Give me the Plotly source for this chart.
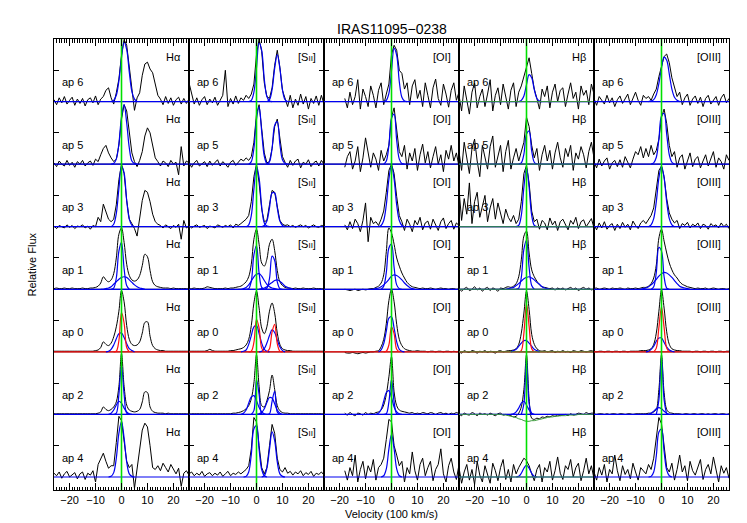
import plotly.graph_objects as go

# velocity grid (100 km/s), shared by all observed spectra
V = list(range(-26, 27))
N = None

# ---------------- observed spectra (percent of panel height, continuum = 0) ----------------
# row ap 6
HA6 = [3, -5, 6, -2, 8, -4, 2, 7, -6, 4,
       -3, 5, -7, 3, 6, -2, 9, -5, 4, 8,
       18, 22, 6, -4, 14, 36, 74, 99, 90, 52,
       18, -14, 6, 14, 42, 60, 63, 52, 46, 30,
       10, 4, -5, 8, -3, 6, -6, 3, 7, -4,
       5, -3, 4]
SII6 = [30, 12, -4, 6, -6, 3, 8, -5, 4, -2,
        7, -6, 2, 10, 50, -8, 5, -4, 9, -3,
        6, 2, 10, 5, 12, 28, 75, 100, 80, 30,
        8, 5, 22, 58, 82, 55, 18, 6, -8, 10,
        -10, 4, -6, 12, -4, 8, -12, 5, -3, 9,
        -6, 10, -4]
OI6 = [N, N, N, N, N, N, N, N, 5, -10,
       15, -5, 8, 35, -12, 20, 8, -8, 25, 10,
       -10, 18, 30, -5, 12, 28, 75, 90, 82, 50,
       45, 20, 30, -5, 25, 35, 5, 18, -8, 30,
       10, -10, 22, 36, 5, -6, 28, 12, -9, 18,
       30, 2, 15]
HB6 = [10, -15, 25, 5, -20, 15, 30, -10, 8, 20,
       -8, 12, 35, -15, 10, 22, -5, 28, 6, -12,
       18, 30, -8, 15, 25, 40, 55, 70, 45, 20,
       5, -12, 20, 8, 25, -10, 15, 28, 0, 18,
       22, -8, 12, 30, 5, 15, -12, 25, 10, 18,
       -5, 28, 12]
OIII6 = [5, -6, 8, 2, -4, 10, -2, 6, -8, 3,
         9, -3, 5, 12, -5, 4, 15, 2, -6, 10,
         5, 8, 2, 12, 20, 40, 58, 72, 76, 62,
         38, 22, 8, 15, -5, 6, 12, -6, 4, 9,
         -3, 7, -8, 5, 10, -4, 3, 8, -6, 6,
         12, -2, 5]
# row ap 5
HA5 = [2, -4, 5, 0, -3, 6, -2, 3, -5, 4,
       0, 6, -3, 2, 5, -2, 8, 4, 15, 25,
       30, 18, 10, 4, 8, 30, 72, 95, 85, 50,
       18, 4, -4, 6, 20, 45, 58, 50, 28, 10,
       4, -3, 5, 2, -4, 6, 0, 3, -17, 28,
       -3, 5, 2]
SII5 = [3, -5, 2, 6, -3, 0, 4, -4, 5, -2,
        2, 7, -3, 4, 0, -5, 3, 6, -2, 4,
        8, 5, 10, 6, 12, 35, 80, 95, 60, 18,
        2, 4, 25, 60, 72, 40, 12, 3, -5, 6,
        -2, 5, 8, -6, 3, 0, 7, -4, 2, 5,
        -3, 6, 0]
OI5 = [N, N, N, N, N, N, N, N, -5, 12,
       20, -8, 5, 28, -12, 10, 42, 15, -5, 18,
       8, -10, 22, 5, 15, 30, 75, 90, 55, 20,
       12, 30, -8, 18, 5, 25, -10, 15, 32, 2,
       20, -6, 12, 28, 0, 15, -12, 22, 8, 30,
       5, 18, -4]
HB5 = [20, -10, 35, 8, -15, 25, 40, 5, -20, 30,
       12, -8, 28, 45, -5, 15, 30, -12, 20, 38,
       -8, 10, 25, 5, 20, 35, 75, 60, 30, 10,
       25, -10, 15, 30, 5, 22, -8, 18, 35, 10,
       -5, 25, 12, 30, -10, 18, 8, 28, 15, -6,
       20, 35, 10]
OIII5 = [4, -6, 8, -3, 5, 10, -8, 2, 6, -4,
         7, -5, 12, 3, -6, 8, 20, 15, 28, 10,
         25, 12, 30, 15, 22, 40, 75, 88, 65, 30,
         12, 20, -5, 10, 15, -8, 6, 18, -4, 8,
         12, -6, 5, 15, -3, 8, 20, -5, 10, 4,
         -8, 15, 6]
# row ap 3
HA3 = [1, -3, 2, 0, -2, 3, -1, 2, -3, 1,
       0, 3, -2, 1, -4, 2, 0, 15, 8, 36,
       22, 12, 8, 12, 35, 75, 100, 85, 42, 12,
       5, -3, -15, 10, 42, 58, 55, 40, 20, 8,
       4, 2, -2, 3, 0, -3, 2, -1, 4, -20,
       10, -2, 1]
SII3 = [2, -2, 1, 3, -1, 0, 2, -3, 1, 0,
        -2, 3, 1, -1, 2, 0, 3, -2, 4, 2,
        5, 8, 12, 18, 40, 80, 100, 70, 28, 8,
        10, 35, 58, 55, 30, 10, 4, 2, 3, 0,
        2, -1, 1, 3, 0, 2, -2, 1, 3, 0,
        -1, 2, 1]
OI3 = [N, N, N, N, N, N, N, N, 3, -5,
       8, -3, 12, 5, -8, 10, 38, -24, 15, 5,
       8, 2, 12, 25, 55, 90, 100, 85, 48, 18,
       8, -6, 12, 4, -8, 10, 3, 15, -5, 6,
       9, -4, 12, 2, -6, 8, 14, -3, 5, 10,
       -4, 6, 2]
HB3 = [60, 10, 45, 20, 70, 5, 40, 55, 15, 35,
       50, 8, 30, 45, 12, 38, 20, 5, 28, 15,
       8, 18, 5, 12, 40, 85, 98, 70, 25, 8,
       12, -4, 10, 6, -5, 14, 3, 9, -6, 8,
       12, 2, -5, 10, 4, 15, -3, 8, 11, 0,
       6, 13, -2]
OIII3 = [3, -5, 6, -2, 8, -4, 2, 5, -6, 4,
         -3, 7, -1, 4, -5, 9, 2, -3, 6, 10,
         5, 12, 18, 30, 60, 90, 97, 80, 45, 22,
         12, 6, 10, -3, 5, 2, 7, -2, 4, 1,
         6, -3, 4, 2, -4, 5, 1, 3, -2, 6,
         0, 4, -3]
# row ap 1
HA1 = [1, 2, 1, 1, 2, 1, 1, 2, 1, 1,
       1, 2, 1, 1, 2, 2, 3, 5, 10, 20,
       15, 12, 15, 25, 50, 88, 98, 75, 40, 22,
       15, 13, 15, 22, 38, 56, 52, 30, 12, 6,
       4, 3, 2, 2, 2, 1, 2, 1, 1, 1,
       1, 1, 1]
SII1 = [1, 1, 2, 1, 1, 1, 2, 4, 3, 2,
        1, 1, 1, 1, 2, 1, 2, 2, 3, 4,
        5, 8, 12, 20, 40, 80, 96, 72, 42, 37,
        48, 72, 80, 62, 30, 12, 6, 3, 2, 2,
        1, 2, 1, 1, 2, 1, 1, 1, 2, 1,
        1, 1, 1]
OI1 = [N, N, N, N, N, N, N, N, 0, -1,
       -2, -1, 0, -2, -1, 0, -1, 0, 1, 1,
       3, 5, 10, 23, 60, 98, 90, 72, 50, 37,
       26, 18, 11, 7, 4, 3, 2, 1, 2, 1,
       1, 2, 1, 0, 1, 2, 1, 1, 0, 1,
       1, 0, 1]
HB1 = [2, -3, 1, 3, -2, 0, 4, -1, 2, -3,
       1, 3, -2, 2, 0, -3, 2, 1, 3, 4,
       3, 5, 9, 20, 47, 85, 93, 58, 31, 20,
       13, 7, 4, 3, 2, 1, 2, -1, 2, 0,
       2, -1, 1, 3, 0, 2, -2, 1, 3, 0,
       2, -1, 1]
OIII1 = [1, 2, 0, 1, 2, 1, 0, 2, 1, 1,
         2, 1, 0, 2, 1, 1, 2, 1, 2, 3,
         3, 5, 9, 18, 39, 82, 96, 77, 58, 42,
         31, 23, 18, 12, 8, 6, 4, 3, 2, 1,
         2, 1, 1, 2, 0, 1, 2, 1, 0, 1,
         1, 0, 1]
# row ap 0
HA0 = [1, 1, 1, 1, 1, 1, 1, 1, 1, 1,
       1, 1, 1, 1, 1, 1, 2, 3, 7, 16,
       12, 10, 14, 24, 40, 65, 98, 80, 42, 20,
       12, 10, 11, 16, 30, 47, 48, 25, 10, 5,
       3, 2, 2, 1, 1, 1, 1, 1, 1, 1,
       1, 1, 1]
SII0 = [1, 1, 1, 1, 1, 1, 1, 2, 4, 2,
        1, 1, 1, 1, 1, 1, 2, 2, 3, 4,
        5, 7, 11, 20, 42, 78, 97, 70, 38, 29,
        40, 65, 78, 62, 30, 12, 5, 3, 2, 2,
        1, 1, 1, 1, 1, 1, 1, 1, 1, 1,
        1, 1, 1]
OI0 = [N, N, N, N, N, N, N, N, -1, -2,
       -2, -1, -2, -3, -2, -1, -2, -1, 0, 0,
       1, 2, 8, 20, 45, 82, 100, 80, 44, 20,
       10, 5, 3, 2, 1, 1, 2, 1, 1, 1,
       0, 1, 1, 0, 1, 1, 0, 1, 1, 0,
       1, 0, 1]
HB0 = [1, -2, 2, 0, -1, 2, 1, -2, 1, 0,
       2, -1, 1, 0, -2, 1, 2, 0, 1, 2,
       2, 3, 5, 12, 30, 62, 97, 68, 28, 12,
       5, 2, 1, 2, 0, 1, 2, -1, 1, 0,
       2, 0, 1, -1, 2, 1, 0, 2, 1, 0,
       1, 2, 0]
OIII0 = [1, 0, 1, 1, 0, 1, 1, 0, 1, 1,
         0, 1, 1, 0, 1, 1, 1, 1, 2, 2,
         2, 3, 5, 12, 30, 65, 99, 70, 32, 12,
         5, 3, 2, 2, 1, 1, 1, 1, 0, 1,
         1, 0, 1, 1, 0, 1, 1, 0, 1, 1,
         0, 1, 1]
# row ap 2
HA2 = [1, 1, 1, 1, 1, 1, 1, 1, 1, 1,
       1, 1, 1, 1, 1, 1, 1, 2, 4, 12,
       8, 6, 8, 12, 20, 45, 97, 45, 15, 7,
       5, 4, 5, 8, 20, 36, 35, 12, 5, 3,
       2, 2, 2, 1, 2, 1, 1, 1, 1, 1,
       1, 1, 1]
SII2 = [1, 1, 1, 1, 1, 1, 1, 1, 1, 1,
        1, 1, 1, 1, 1, 1, 1, 2, 2, 3,
        4, 6, 9, 14, 25, 50, 95, 45, 14, 12,
        22, 38, 63, 40, 14, 6, 3, 2, 2, 1,
        1, 1, 1, 1, 1, 1, 1, 1, 1, 1,
        1, 1, 1]
OI2 = [N, N, N, N, N, N, N, N, 2, -1,
       3, 0, -2, 2, 1, -1, 3, 0, 2, 1,
       3, 4, 7, 15, 32, 60, 92, 36, 14, 7,
       5, 4, 3, 2, 3, 1, 2, 1, 3, 2,
       1, 3, 2, 0, 2, 3, 1, 2, 0, 2,
       1, 3, 1]
HB2 = [1, -2, 2, 0, -1, 3, 1, -2, 2, 0,
       1, -1, 2, 0, -2, 1, 2, -1, 0, -1,
       -2, -4, -3, 2, 12, 40, 95, 25, -6, -8,
       -6, -7, -4, -5, -3, -4, -2, -3, -1, -2,
       -1, 0, -2, 1, -1, 0, 2, 1, 0, 3,
       1, 2, 2]
OIII2 = [1, 0, 1, 1, 0, 1, 0, 1, 1, 0,
         1, 1, 0, 1, 1, 0, 1, 1, 1, 1,
         1, 2, 2, 4, 8, 40, 95, 35, 8, 3,
         2, 1, 1, 1, 0, 1, 1, 0, 1, 1,
         0, 1, 1, 0, 1, 0, 1, 1, 0, 1,
         1, 0, 1]
# row ap 4
HA4 = [6, 2, 8, -2, 5, 9, 0, 4, 7, -3,
       5, 8, -4, 6, 3, 10, -8, 20, 30, 38,
       25, 14, 18, 18, 55, 97, 90, 55, 25, 15,
       20, -18, 12, 45, 75, 86, 80, 50, 15, 12,
       18, 10, 22, 15, 8, 20, 12, 5, 14, -15,
       6, 10, 3]
SII4 = [5, 8, 2, 6, 3, 9, 1, 5, 7, 2,
        6, 3, 8, 1, 5, 9, 2, 6, 4, 8,
        5, 9, 12, 18, 45, 95, 88, 50, 15, 5,
        15, 50, 84, 70, 30, 12, 8, 15, 6, 9,
        3, 8, 5, 10, 2, 7, 4, 9, 1, 6,
        4, 8, 3]
OI4 = [N, N, N, N, N, N, N, N, 10, -5,
       15, 2, 35, -8, 12, 25, -3, 18, 8, 28,
       -5, 15, 20, 30, 60, 92, 88, 50, 35, 18,
       25, -8, 15, 5, 40, 10, -5, 20, 30, 2,
       15, 25, -6, 12, 20, 45, 5, -8, 18, 30,
       8, -4, 20]
HB4 = [15, -10, 8, 20, -5, 12, -12, 25, 3, -8,
       18, 5, -10, 22, 10, -6, 15, 28, -4, 12,
       -8, 20, 5, 15, 22, 30, 26, 18, 5, -6,
       12, 20, -8, 15, 8, 25, -5, 10, 32, 6,
       -4, 18, 12, 28, 0, 15, 22, -6, 10, 30,
       5, 18, -3]
OIII4 = [8, -5, 15, 3, 20, -8, 12, 5, 35, 10,
         -6, 18, 4, 12, -3, 22, 8, -5, 15, 10,
         5, 20, 12, 30, 65, 95, 85, 45, 15, 8,
         22, -5, 12, 35, 8, 18, -6, 25, 10, 3,
         15, 28, -4, 12, 20, 5, 32, 10, -8, 18,
         6, 15, -2]

# H-beta ap 2 fitted continuum (stellar absorption), same grid
HB2_CONT = [0, 0, 0, 0, 0, 0, 0, 0, 0, 0,
            0, 0, 0, 0, 0, 0, 0, -1, -1, -2,
            -3, -4, -5, -7, -8, -10, -11, -11, -10, -10,
            -9, -8, -7, -6, -5, -4, -4, -3, -3, -2,
            -2, -2, -1, -1, -1, -1, 0, 0, 0, 0,
            0, 0, 0]

# ---------------- fitted components: (first velocity, values at 1-unit steps) ----------------
HA6_FIT = [(-4, [0, 2, 10, 33, 70, 95, 83, 47, 16, 4, 0])]
SII6_FIT = [(-3, [0, 2, 15, 54, 94, 82, 36, 8, 1, 0]), (4, [0, 3, 19, 53, 75, 53, 19, 3, 0])]
OI6_FIT = [(-3, [0, 2, 13, 49, 85, 74, 32, 7, 1, 0])]
HB6_FIT = [(-3, [0, 2, 9, 27, 43, 38, 19, 5, 1, 0])]
OIII6_FIT = [(-5, [0, 1, 3, 11, 29, 54, 71, 66, 44, 20, 7, 2, 0])]

HA5_FIT = [(-4, [0, 1, 8, 33, 75, 95, 66, 26, 5, 1, 0])]
SII5_FIT = [(-3, [0, 4, 25, 72, 92, 52, 13, 1, 0]), (4, [0, 4, 25, 62, 68, 32, 7, 1, 0])]
OI5_FIT = [(-3, [0, 5, 30, 73, 80, 38, 8, 1, 0])]
HB5_FIT = [(-3, [0, 2, 16, 48, 53, 21, 3, 0])]
OIII5_FIT = [(-4, [0, 2, 11, 40, 77, 81, 48, 15, 3, 0])]

HA3_FIT = [(-4, [0, 4, 21, 61, 97, 86, 42, 12, 2, 0])]
SII3_FIT = [(-4, [0, 3, 18, 60, 97, 78, 32, 6, 1, 0]), (2, [0, 2, 9, 30, 54, 54, 30, 9, 2, 0])]
OI3_FIT = [(-5, [0, 2, 10, 35, 76, 98, 76, 35, 10, 2, 0])]
HB3_FIT = [(-4, [0, 2, 18, 63, 95, 63, 18, 2, 0])]
OIII3_FIT = [(-5, [0, 3, 13, 40, 78, 97, 78, 40, 13, 3, 0])]

HA1_FIT = [(-4, [0, 2, 18, 61, 75, 33, 6, 0]),
           (-8, [0, 0, 1, 2, 4, 8, 12, 16, 19, 20, 19, 15, 11, 7, 4, 2, 1, 0])]
SII1_FIT = [(-4, [0, 1, 13, 55, 70, 26, 3, 0]),
            (-7, [0, 0, 1, 3, 7, 13, 20, 24, 25, 21, 14, 8, 4, 2, 1, 0]),
            (3, [0, 2, 17, 53, 46, 12, 1, 0]),
            (1, [0, 1, 2, 4, 8, 11, 14, 15, 13, 9, 5, 3, 1, 0])]
OI1_FIT = [(-4, [0, 5, 27, 66, 72, 35, 7, 1, 0]),
           (-7, [0, 1, 2, 4, 7, 11, 16, 21, 23, 22, 19, 15, 10, 6, 3, 1, 0])]
HB1_FIT = [(-4, [0, 2, 19, 64, 78, 35, 6, 0]),
           (-8, [0, 1, 2, 3, 6, 9, 13, 17, 19, 20, 18, 15, 11, 8, 4, 2, 1, 0])]
OIII1_FIT = [(-4, [0, 4, 27, 67, 61, 20, 2, 0]),
             (-8, [0, 1, 2, 4, 7, 11, 16, 21, 25, 27, 26, 23, 19, 14, 9, 5, 3, 2, 1, 0])]

HA0_BLUE = [(-6, [0, 1, 4, 11, 21, 29, 30, 23, 13, 5, 2, 0])]
HA0_RED = [(-3, [0, 1, 18, 63, 46, 7, 0])]
SII0_BLUE = [(-6, [0, 1, 3, 12, 26, 40, 42, 29, 14, 4, 1, 0]), (1, [0, 1, 5, 14, 26, 35, 31, 19, 8, 2, 0])]
SII0_RED = [(-3, [0, 1, 15, 52, 38, 6, 0]), (4, [0, 5, 32, 44, 13, 1, 0])]
OI0_BLUE = [(-5, [0, 3, 13, 33, 54, 56, 38, 16, 4, 1, 0])]
OI0_RED = [(-3, [0, 1, 11, 40, 29, 4, 0])]
HB0_BLUE = [(-6, [0, 2, 4, 9, 14, 18, 18, 14, 9, 4, 2, 0])]
HB0_RED = [(-3, [0, 2, 30, 77, 41, 5, 0])]
OIII0_BLUE = [(-6, [0, 1, 4, 9, 17, 22, 22, 15, 8, 3, 1, 0])]
OIII0_RED = [(-3, [0, 6, 39, 72, 39, 6, 0])]

HA2_FIT = [(-3, [0, 2, 32, 79, 32, 2, 0]), (-5, [0, 2, 7, 15, 21, 18, 10, 4, 1, 0])]
SII2_FIT = [(-2, [0, 6, 56, 32, 1, 0]), (-6, [0, 2, 7, 18, 28, 30, 22, 11, 4, 1, 0]),
            (4, [0, 1, 21, 37, 4, 0]), (0, [0, 1, 3, 9, 19, 27, 26, 17, 7, 2, 0])]
OI2_FIT = [(-3, [0, 1, 20, 56, 20, 1, 0]), (-6, [0, 2, 8, 21, 35, 38, 27, 12, 4, 1, 0])]
HB2_FIT = [(-2, [0, 17, 89, 17, 0]), (-6, [0, 1, 4, 10, 18, 21, 15, 7, 2, 0])]
OIII2_FIT = [(-2, [0, 23, 93, 23, 0]), (-5, [0, 2, 5, 9, 11, 9, 5, 2, 0])]

HA4_FIT = [(-5, [0, 1, 7, 30, 70, 89, 62, 24, 5, 1, 0])]
SII4_FIT = [(-5, [0, 1, 8, 36, 77, 82, 44, 12, 2, 0]), (2, [0, 2, 14, 44, 72, 58, 24, 5, 1, 0])]
OI4_FIT = [(-4, [0, 2, 13, 45, 68, 45, 13, 2, 0])]
HB4_FIT = [(-4, [0, 1, 6, 14, 19, 14, 6, 1, 0])]
OIII4_FIT = [(-5, [0, 1, 8, 34, 72, 77, 41, 11, 2, 0])]

# ---------------- labels ----------------
TITLE = "IRAS11095\u22120238"
X_TITLE = "Velocity (100 km/s)"
Y_TITLE = "Relative Flux"
APERTURES = ["ap 6", "ap 5", "ap 3", "ap 1", "ap 0", "ap 2", "ap 4"]
LINES = ["H\u03b1", "[S<span style='font-size:8px'>II</span>]", "[OI]", "H\u03b2", "[OIII]"]
X_TICKS = [-20, -10, 0, 10, 20]

# ---------------- tables built from the arrays ----------------
SPECTRA = [
    [HA6, HA5, HA3, HA1, HA0, HA2, HA4],
    [SII6, SII5, SII3, SII1, SII0, SII2, SII4],
    [OI6, OI5, OI3, OI1, OI0, OI2, OI4],
    [HB6, HB5, HB3, HB1, HB0, HB2, HB4],
    [OIII6, OIII5, OIII3, OIII1, OIII0, OIII2, OIII4],
]
FITS_BLUE = [
    [HA6_FIT, HA5_FIT, HA3_FIT, HA1_FIT, HA0_BLUE, HA2_FIT, HA4_FIT],
    [SII6_FIT, SII5_FIT, SII3_FIT, SII1_FIT, SII0_BLUE, SII2_FIT, SII4_FIT],
    [OI6_FIT, OI5_FIT, OI3_FIT, OI1_FIT, OI0_BLUE, OI2_FIT, OI4_FIT],
    [HB6_FIT, HB5_FIT, HB3_FIT, HB1_FIT, HB0_BLUE, HB2_FIT, HB4_FIT],
    [OIII6_FIT, OIII5_FIT, OIII3_FIT, OIII1_FIT, OIII0_BLUE, OIII2_FIT, OIII4_FIT],
]
FITS_RED = {"ap 0": [HA0_RED, SII0_RED, OI0_RED, HB0_RED, OIII0_RED]}
CONTINUUM = {("H\u03b2", "ap 2"): HB2_CONT}
SMOOTH_ROWS = {"ap 1", "ap 0", "ap 2"}

FONT = "Liberation Sans"
BLUE = "#0000f0"
RED = "#ff1010"
LIME = "#00e000"
DKGREEN = "#3a9a3a"
NROW = len(APERTURES)
YMIN = -0.208

fig = go.Figure()
shapes = []
annotations = []


def add_line(xs, ys, xa, ya, color, width=1.0, shape="linear"):
    fig.add_trace(go.Scatter(x=xs, y=ys, xaxis=xa, yaxis=ya, mode="lines",
                             line=dict(color=color, width=width, shape=shape),
                             connectgaps=False, hoverinfo="skip", showlegend=False))


for c, line_name in enumerate(LINES):
    xa = "x" if c == 0 else "x%d" % (c + 1)
    ya = "y" if c == 0 else "y%d" % (c + 1)
    for r, ap in enumerate(APERTURES):
        off = NROW - 1 - r
        spec = SPECTRA[c][r]
        ys = [None if s is None else off + s / 100.0 for s in spec]
        add_line(V[:len(ys)], ys, xa, ya, "black", 1.0,
                 "spline" if ap in SMOOTH_ROWS else "linear")
        base_col = RED if ap in FITS_RED else BLUE
        add_line([V[0], V[-1]], [off, off], xa, ya, base_col, 1.2)
        for v0, vals in FITS_BLUE[c][r]:
            add_line([v0 + i for i in range(len(vals))], [off + q / 100.0 for q in vals],
                     xa, ya, BLUE, 1.2, "spline")
        if ap in FITS_RED:
            for v0, vals in FITS_RED[ap][c]:
                add_line([v0 + i for i in range(len(vals))], [off + q / 100.0 for q in vals],
                         xa, ya, RED, 1.2, "spline")
        if line_name == "H\u03b2":
            cont = CONTINUUM.get((line_name, ap))
            if cont is None:
                add_line([V[0], V[-1]], [off, off], xa, ya, DKGREEN, 1.0)
            else:
                add_line(V[:len(cont)], [off + q / 100.0 for q in cont], xa, ya, DKGREEN, 1.0, "spline")
        annotations.append(dict(x=-23.8, y=off + 0.31, xref=xa, yref=ya, text=ap,
                                showarrow=False, xanchor="left", yanchor="middle",
                                font=dict(family=FONT, size=11, color="black")))
        annotations.append(dict(x=23.8, y=off + 0.72, xref=xa, yref=ya, text=line_name,
                                showarrow=False, xanchor="right", yanchor="middle",
                                font=dict(family=FONT, size=11, color="black")))
    # zero-velocity marker
    add_line([0, 0], [YMIN, NROW], xa, ya, LIME, 1.6)
    # row separators
    for k in range(1, NROW):
        shapes.append(dict(type="line", xref=xa, yref=ya, x0=-26, x1=26, y0=k, y1=k,
                           line=dict(color="black", width=1), layer="below"))

layout_axes = {}
for c in range(len(LINES)):
    xk = "xaxis" if c == 0 else "xaxis%d" % (c + 1)
    yk = "yaxis" if c == 0 else "yaxis%d" % (c + 1)
    xa = "x" if c == 0 else "x%d" % (c + 1)
    ya = "y" if c == 0 else "y%d" % (c + 1)
    layout_axes[xk] = dict(domain=[c / 5.0, (c + 1) / 5.0], range=[-26, 26], anchor=ya,
                           showline=True, linecolor="black", linewidth=1, mirror="ticks",
                           ticks="inside", ticklen=7, tickwidth=1, tickcolor="black",
                           tickvals=X_TICKS, ticktext=[("\u2212%d" % -t) if t < 0 else str(t) for t in X_TICKS],
                           minor=dict(ticks="inside", dtick=1, tick0=0, ticklen=3.5,
                                      tickcolor="black", tickwidth=1),
                           showgrid=False, zeroline=False,
                           tickfont=dict(family=FONT, size=11, color="black"))
    layout_axes[yk] = dict(domain=[0, 1], range=[YMIN, NROW], anchor=xa,
                           showline=True, linecolor="black", linewidth=1, mirror="ticks",
                           ticks="inside", ticklen=5, tickwidth=1, tickcolor="black",
                           tickvals=[k + 0.5 for k in range(NROW)], showticklabels=False,
                           showgrid=False, zeroline=False)

annotations.append(dict(x=0.5, y=1, xref="paper", yref="paper", yshift=10, text=TITLE,
                        showarrow=False, yanchor="middle",
                        font=dict(family=FONT, size=14, color="black")))
annotations.append(dict(x=0.5, y=0, xref="paper", yref="paper", yshift=-24, text=X_TITLE,
                        showarrow=False, yanchor="middle",
                        font=dict(family=FONT, size=11, color="black")))
annotations.append(dict(x=0, y=0.5, xref="paper", yref="paper", xshift=-23, text=Y_TITLE,
                        showarrow=False, textangle=-90, xanchor="center", yanchor="middle",
                        font=dict(family=FONT, size=11, color="black")))

fig.update_layout(width=747, height=523, margin=dict(l=46, r=26, t=31, b=41),
                  paper_bgcolor="white", plot_bgcolor="white", showlegend=False,
                  shapes=shapes, annotations=annotations, **layout_axes)

fig.write_html("out.html")
